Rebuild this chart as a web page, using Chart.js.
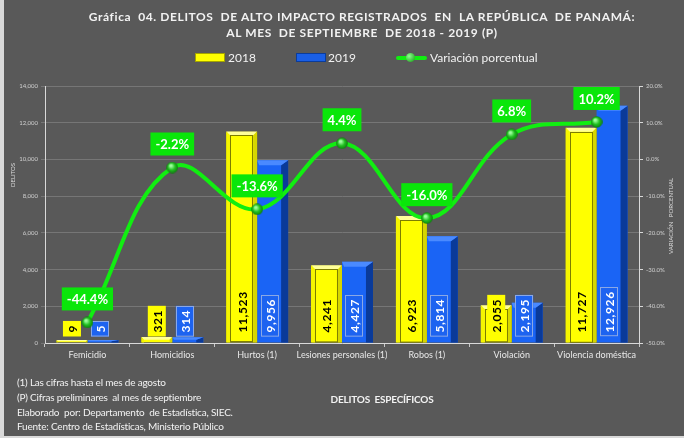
<!DOCTYPE html>
<html>
<head>
<meta charset="utf-8">
<script src="https://cdn.jsdelivr.net/npm/chart.js@4.4.0/dist/chart.umd.min.js"></script>
<style>
  html, body { margin: 0; padding: 0; background: #d9d9d9; }
  #wrap { position: relative; width: 684px; height: 438px; background: #595959; overflow: hidden;
          font-family: Lato, "Open Sans", sans-serif; color: #f2f2f2; }
  #wrap canvas { position: absolute; left: 0; top: 0; }
  .edge-left { position: absolute; left: 0; top: 0; width: 4px; height: 438px; background: #d9d9d9; }
  .edge-bottom { position: absolute; left: 0; bottom: 0; width: 684px; height: 2px; background: #d9d9d9; }
  .t { position: absolute; white-space: pre; line-height: 1; }
  .title { left: 362px; transform: translateX(-50%); font-weight: bold; font-size: 12px; letter-spacing: 0.6px; }
  .rot { transform: translate(-50%, -50%) rotate(-90deg); font-size: 6px; color: #d9d9d9; }
  .sw { position: absolute; width: 30px; height: 9px; }
  .note { left: 17px; font-size: 10px; letter-spacing: -0.2px; }
</style>
</head>
<body>
<div id="wrap">
  <canvas id="chart" width="684" height="438"></canvas>
  <div class="edge-left"></div>
  <div class="edge-bottom"></div>

  <div class="t title" style="top:11px">Gráfica  04. DELITOS  DE ALTO IMPACTO REGISTRADOS  EN  LA REPÚBLICA  DE PANAMÁ:</div>
  <div class="t title" style="top:27px">AL MES  DE SEPTIEMBRE  DE 2018 - 2019 (P)</div>

  <!-- legend -->
  <div class="sw" style="left:195px; top:53px; background:#ffff00; border:1px solid #a3a300; box-sizing:border-box;"></div>
  <div class="t" style="left:228px; top:52px; font-size:12px;">2018</div>
  <div class="sw" style="left:296px; top:53px; background:#1a5fe6; border:1px solid #0b3c9a; box-sizing:border-box;"></div>
  <div class="t" style="left:328px; top:52px; font-size:12px;">2019</div>
  <div class="sw" style="left:396px; top:56px; height:4px; width:31px; background:#11ee11; border-radius:2px;"></div>
  <div class="sw" style="left:406px; top:53px; width:9px; height:9px; border-radius:50%; background:radial-gradient(circle at 35% 35%, #8cff8c, #129612);"></div>
  <div class="t" style="left:430px; top:52px; font-size:12px;">Variación porcentual</div>

  <!-- axis titles -->
  <div class="t rot" style="left:13px; top:175px;">DELITOS</div>
  <div class="t rot" style="left:671px; top:216px;">VARIACIÓN   PORCENTUAL</div>
  <div class="t" style="left:382px; top:394px; transform:translateX(-50%); font-size:10px; font-weight:bold; letter-spacing:-0.2px;">DELITOS  ESPECÍFICOS</div>

  <!-- notes -->
  <div class="t note" style="top:377px">(1) Las cifras hasta el mes de agosto</div>
  <div class="t note" style="top:392px">(P) Cifras preliminares  al mes de septiembre</div>
  <div class="t note" style="top:407px">Elaborado  por: Departamento  de Estadística, SIEC.</div>
  <div class="t note" style="top:421px">Fuente: Centro de Estadísticas, Ministerio Público</div>
</div>

<script>
const categories = ['Femicidio', 'Homicidios', 'Hurtos (1)', 'Lesiones personales (1)', 'Robos (1)', 'Violación', 'Violencia doméstica'];
const delitos2018 = [9, 321, 11523, 4241, 6923, 2055, 11727];
const delitos2019 = [5, 314, 9956, 4427, 5814, 2195, 12926];
const variacion = [-44.4, -2.2, -13.6, 4.4, -16.0, 6.8, 10.2];
const delitosMax = 14000;
const delitosStep = 2000;
const variacionMin = -50;
const variacionMax = 20;
const variacionStep = 10;

// little green sphere for the line points
const sphere = document.createElement('canvas');
sphere.width = 12; sphere.height = 12;
(() => {
  const c = sphere.getContext('2d');
  const g = c.createRadialGradient(4.5, 4, 1, 6, 6, 6);
  g.addColorStop(0, '#9dff9d');
  g.addColorStop(0.5, '#22c022');
  g.addColorStop(1, '#0b7a0b');
  c.fillStyle = g;
  c.beginPath(); c.arc(6, 6, 5.8, 0, Math.PI * 2); c.fill();
})();

// bevel + rotated value boxes on the bars
const barStyle = {
  id: 'barStyle',
  afterDatasetDraw(chart, args) {
    const meta = args.meta;
    if (meta.type !== 'bar') return;
    const ctx = chart.ctx;
    const values = args.index === 0 ? delitos2018 : delitos2019;
    ctx.save();
    meta.data.forEach((bar, i) => {
      const x0 = bar.x - bar.width / 2, x1 = bar.x + bar.width / 2;
      const top = bar.y, base = bar.base, h = base - top;
      if (args.index === 0) {
        const b = Math.min(4, h / 2);
        ctx.fillStyle = '#ffff99';
        ctx.beginPath(); ctx.moveTo(x0, top); ctx.lineTo(x1, top); ctx.lineTo(x1 - b, top + b); ctx.lineTo(x0 + b, top + b); ctx.closePath(); ctx.fill();
        ctx.fillStyle = '#d6d600';
        ctx.beginPath(); ctx.moveTo(x1, top); ctx.lineTo(x1, base); ctx.lineTo(x1 - b, base); ctx.lineTo(x1 - b, top + b); ctx.closePath(); ctx.fill();
        ctx.fillStyle = '#f5f500';
        ctx.beginPath(); ctx.moveTo(x0, top); ctx.lineTo(x0 + b, top + b); ctx.lineTo(x0 + b, base); ctx.lineTo(x0, base); ctx.closePath(); ctx.fill();
        if (h > 10) {
          ctx.strokeStyle = '#7d7d00'; ctx.lineWidth = 1;
          ctx.strokeRect(Math.round(x0 + b) + 0.5, Math.round(top + b) + 0.5, x1 - x0 - 2 * b - 1, h - b - 1);
        }
      } else {
        const s = Math.min(7, bar.width / 4), b = Math.min(5, h / 2);
        ctx.fillStyle = '#0a3a99';
        ctx.beginPath(); ctx.moveTo(x1 - s, top + b); ctx.lineTo(x1, top); ctx.lineTo(x1, base); ctx.lineTo(x1 - s, base); ctx.closePath(); ctx.fill();
        ctx.fillStyle = '#4a8aff';
        ctx.beginPath(); ctx.moveTo(x0, top); ctx.lineTo(x1, top); ctx.lineTo(x1 - s, top + b); ctx.lineTo(x0 + 2, top + b); ctx.closePath(); ctx.fill();
      }

      // value label box
      const txt = values[i].toLocaleString('en-US');
      ctx.font = 'bold 12px Lato';
      ctx.letterSpacing = '0.6px';
      const tw = ctx.measureText(txt).width;
      const bw = 18, bh = tw + 8;
      const cx = args.index === 0 ? bar.x : bar.x - 3;
      const by = base - 6 - bh;
      if (args.index === 0) {
        ctx.fillStyle = '#ffff00';
        ctx.fillRect(cx - bw / 2, by, bw, bh);
      } else {
        ctx.fillStyle = '#1d63f0';
        ctx.fillRect(cx - bw / 2, by, bw, bh);
        ctx.strokeStyle = '#8aa8e6'; ctx.lineWidth = 1;
        ctx.strokeRect(Math.round(cx - bw / 2) + 0.5, Math.round(by) + 0.5, bw - 1, bh - 1);
      }
      ctx.save();
      ctx.translate(cx, by + bh / 2);
      ctx.rotate(-Math.PI / 2);
      ctx.fillStyle = args.index === 0 ? '#000000' : '#ffffff';
      ctx.textAlign = 'center';
      ctx.textBaseline = 'middle';
      ctx.fillText(txt, 0, 1);
      ctx.restore();
    });
    ctx.restore();
  },
  afterDatasetsDraw(chart) {
    const ctx = chart.ctx;
    const meta = chart.getDatasetMeta(2);
    ctx.save();
    ctx.font = 'bold 13px Lato';
    ctx.textAlign = 'center';
    ctx.textBaseline = 'middle';
    meta.data.forEach((pt, i) => {
      const txt = variacion[i].toFixed(1) + '%';
      const w = ctx.measureText(txt).width + 10, h = 23;
      const bx = pt.x - w / 2, by = pt.y - 12 - h;
      ctx.fillStyle = '#0ae60a';
      ctx.fillRect(bx, by, w, h);
      ctx.fillStyle = '#ffffff';
      ctx.fillText(txt, pt.x, by + h / 2 + 1);
    });
    ctx.restore();
  }
};

new Chart(document.getElementById('chart'), {
  data: {
    labels: categories,
    datasets: [
      {
        type: 'bar',
        label: '2018',
        data: delitos2018,
        backgroundColor: '#ffff00',
        borderColor: '#9c9c00',
        borderWidth: 1,
        minBarLength: 3,
        yAxisID: 'y',
        order: 1,
      },
      {
        type: 'bar',
        label: '2019',
        data: delitos2019,
        backgroundColor: '#1a64f5',
        borderWidth: 0,
        minBarLength: 3,
        yAxisID: 'y',
        order: 1,
      },
      {
        type: 'line',
        label: 'Variación porcentual',
        data: variacion,
        borderColor: '#11ee11',
        borderWidth: 4,
        tension: 0.4,
        pointStyle: sphere,
        pointRadius: 6,
        yAxisID: 'y1',
        order: 0,
      },
    ],
  },
  options: {
    responsive: false,
    animation: false,
    layout: { padding: { top: 86, left: 0, right: 0, bottom: 0 } },
    datasets: { bar: { categoryPercentage: 0.73, barPercentage: 1.0 } },
    plugins: { legend: { display: false }, tooltip: { enabled: false } },
    scales: {
      x: {
        grid: { drawOnChartArea: false, tickLength: 4, color: '#c8c8c8' },
        border: { color: '#d9d9d9' },
        ticks: { color: '#e8e8e8', font: { family: 'Lato', size: 9 }, padding: 3, maxRotation: 0, autoSkip: false },
        afterFit: (s) => { s.height = 95; },
      },
      y: {
        position: 'left',
        min: 0,
        max: delitosMax,
        ticks: {
          stepSize: delitosStep,
          color: '#d0d0d0',
          font: { family: 'Lato', size: 6 },
          padding: 3,
          callback: (v) => v.toLocaleString('en-US'),
        },
        grid: { color: '#767676', tickLength: 4 },
        border: { color: '#d9d9d9' },
        afterFit: (s) => { s.width = 45; },
      },
      y1: {
        position: 'right',
        min: variacionMin,
        max: variacionMax,
        ticks: {
          stepSize: variacionStep,
          color: '#d0d0d0',
          font: { family: 'Lato', size: 6 },
          padding: 3,
          callback: (v) => v.toFixed(1) + '%',
        },
        grid: { drawOnChartArea: false, tickLength: 4, color: '#d9d9d9' },
        border: { color: '#d9d9d9' },
        afterFit: (s) => { s.width = 45; },
      },
    },
  },
  plugins: [barStyle],
});
</script>
</body>
</html>
